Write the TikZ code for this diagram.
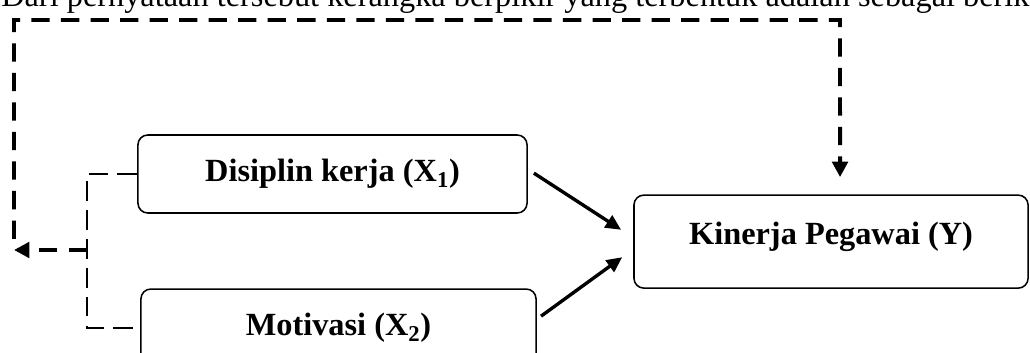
\documentclass[tikz,border=0pt]{standalone}
\usepackage{fontspec}
\setmainfont{Liberation Serif}
\usetikzlibrary{arrows.meta,positioning}

\begin{document}
\begin{tikzpicture}[x=0.025cm,y=-0.025cm,on grid,
	var/.style={draw,rounded corners=7pt,line width=1.1pt,font=\fontsize{23}{27}\selectfont\bfseries,minimum height=1.95cm},
	arr/.style={-{Triangle[length=11pt,width=10pt]},line width=2.4pt},
	fb/.style={-{Triangle[length=11pt,width=11pt]},line width=2.8pt,dash pattern=on 13pt off 8pt},
	link/.style={line width=1.2pt,dash pattern=on 14pt off 6.5pt}]
	\useasboundingbox (0,0) rectangle (1030,353);
	\node[anchor=base west,inner sep=0,font=\fontsize{23}{27}\selectfont] (txt) at (1,7) {Dari pernyataan tersebut kerangka berpikir yang terbentuk adalah sebagai berikut};
	\node[var,minimum width=9.725cm] (x1) at (332.5,174) {Disiplin kerja (X\textsubscript{1})};
	\node[var,minimum width=9.875cm,below right=3.85cm and 0.15cm of x1] (x2) {Motivasi (X\textsubscript{2})};
	\node[var,minimum width=9.85cm,minimum height=2.325cm,below right=1.69cm and 12.46cm of x1] (ky) {\raisebox{0.42cm}{Kinerja Pegawai (Y)}};
	\coordinate (jn) at (87,250);
	\coordinate (lc) at (14,250);
	\coordinate (tr) at (840,20);

	\draw[arr,shorten <=0.18cm,shorten >=0.36cm] ([yshift=0.12cm]x1.east) -- ([yshift=0.1cm]ky.west);
	\draw[arr,shorten <=0.13cm,shorten >=0.34cm] ([yshift=0.22cm]x2.east) -- ([yshift=-0.19cm]ky.west);
	\draw[link] (x1.west) -| (jn) |- (x2.west);
	\draw[fb] (jn) -- (lc);
	\draw[fb,shorten <=0.28cm,shorten >=0.43cm] (lc) |- (tr) -- ([xshift=0.225cm]ky.north);
\end{tikzpicture}
\end{document}
